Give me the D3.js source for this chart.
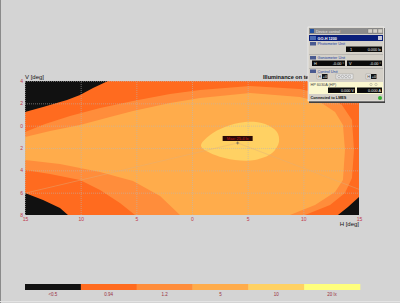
<!DOCTYPE html>
<html>
<head>
<meta charset="utf-8">
<script src="https://cdn.jsdelivr.net/npm/d3@7"></script>
<style>
  body { margin: 0; background: #d4d4d4; }
  svg { display: block; font-family: "Liberation Sans", Arial, sans-serif; }
</style>
</head>
<body>
<svg id="chart" width="400" height="303"></svg>
<script>
// axis ticks
const hTicks = [-15, -10, -5, 0, 5, 10, 15];
const vTicks = [4, 2, 0, -2, -4, -6, -8];

// illuminance classes (legend)
const legendLabels = ["<0.5", "0.94", "1.2", "5", "10", "20 lx"];
const legendColors = ["#111111", "#ff6b1f", "#ff8d3b", "#ffac4b", "#ffd163", "#ffff7c"];

// iso-lux regions, [H deg, V deg]; each one sits on top of the previous
const levelDark = [[-15, 1.22], [-13.38, 1.67], [-11.23, 2.3], [-10.06, 2.75], [-8.89, 3.37], [-7.55, 4],
  [15, 4], [15, -6.39], [14.01, -7.28], [13.11, -8], [-11.14, -8], [-11.86, -7.37], [-13.38, -6.66], [-15, -6.03]];
const levelOrange = [[-15, -0.57], [-13.2, 0.15], [-10.96, 0.87], [-8.26, 1.58], [-5.3, 2.21], [-1.98, 2.84],
  [0.72, 3.19], [5.21, 3.55], [9.7, 3.28], [11.95, 2.75], [13.47, 1.85], [14.37, 0.51], [14.55, -2.18],
  [14.37, -4.69], [13.74, -6.03], [12.4, -7.1], [10.15, -8], [-5.12, -8], [-6.47, -6.93], [-8.26, -5.76],
  [-10.06, -4.87], [-12.75, -4.33], [-15, -3.97]];
const levelLight = [[-15, -1.01], [-12.75, -0.48], [-10.06, 0.06], [-7.37, 0.78], [-5.3, 1.31], [-1.98, 2.03],
  [0.72, 2.48], [5.21, 2.93], [9.7, 2.57], [11.5, 2.12], [12.85, 1.22], [13.56, 0.06], [13.74, -2.18],
  [13.56, -4.87], [12.85, -5.94], [11.05, -7.1], [8.8, -8], [-1.08, -8], [-2.87, -6.3], [-5.3, -4.96],
  [-8.26, -4.15], [-11.86, -3.43], [-15, -3.07]];
const levelHot = [[0.81, -1.82], [1.62, -0.84], [2.96, -0.12], [4.76, 0.33], [6.56, 0.15], [7.63, -0.57],
  [7.81, -1.46], [7.19, -2.45], [5.66, -3.07], [3.86, -3.07], [2.07, -2.63]];

const maxPoint = { h: 4.1, v: -1.55, label: "Max: 25.4 lx" };
const guideLines = [[[-15, -6.05], [4.1, -1.55]], [[4.1, -1.55], [15, -5.7]]];

const svg = d3.select("#chart");

// frame of the window
svg.append("line").attr("x1", 0.5).attr("x2", 0.5).attr("y1", 0).attr("y2", 303)
  .attr("stroke", "#8a8a8a");
svg.append("line").attr("x1", 0).attr("x2", 400).attr("y1", 301.5).attr("y2", 301.5)
  .attr("stroke", "#e4e4e4");

const x = d3.scaleLinear().domain([-15, 15]).range([25, 359]);
const y = d3.scaleLinear().domain([-8, 4]).range([215, 81]);

svg.append("clipPath").attr("id", "plotclip")
  .append("rect").attr("x", 25).attr("y", 81).attr("width", 334).attr("height", 134);

const plot = svg.append("g").attr("clip-path", "url(#plotclip)");

plot.append("rect")
  .attr("x", x(-15)).attr("y", y(4))
  .attr("width", x(15) - x(-15)).attr("height", y(-8) - y(4))
  .attr("fill", legendColors[0]);

const poly = d3.line().x(d => x(d[0])).y(d => y(d[1])).curve(d3.curveLinearClosed);
const smooth = d3.line().x(d => x(d[0])).y(d => y(d[1])).curve(d3.curveCatmullRomClosed);

[levelDark, levelOrange, levelLight].forEach((lv, i) => {
  plot.append("path").attr("d", poly(lv)).attr("fill", legendColors[i + 1]);
});
plot.append("path").attr("d", smooth(levelHot)).attr("fill", legendColors[4]);

// grid
plot.append("g")
  .attr("transform", "translate(0," + y(-8) + ")")
  .call(d3.axisBottom(x).tickValues(hTicks).tickSize(-(y(-8) - y(4))).tickFormat(""))
  .call(g => g.select(".domain").remove())
  .selectAll("line").attr("stroke", "#b8b8b8").attr("stroke-dasharray", "1,1").attr("opacity", 0.55);
plot.append("g")
  .attr("transform", "translate(" + x(-15) + ",0)")
  .call(d3.axisLeft(y).tickValues(vTicks).tickSize(-(x(15) - x(-15))).tickFormat(""))
  .call(g => g.select(".domain").remove())
  .selectAll("line").attr("stroke", "#b8b8b8").attr("stroke-dasharray", "1,1").attr("opacity", 0.55);

guideLines.forEach(l => {
  plot.append("line")
    .attr("x1", x(l[0][0])).attr("y1", y(l[0][1]))
    .attr("x2", x(l[1][0])).attr("y2", y(l[1][1]))
    .attr("stroke", "#e0b080").attr("stroke-width", 0.7).attr("opacity", 0.6);
});

// maximum marker
const mx = x(maxPoint.h), my = y(maxPoint.v);
plot.append("rect").attr("x", mx - 15).attr("y", my - 7).attr("width", 30).attr("height", 5)
  .attr("fill", "#2a0a08");
plot.append("text").attr("x", mx).attr("y", my - 3.2).attr("text-anchor", "middle")
  .attr("font-size", 4).attr("fill", "#c81e1e").text(maxPoint.label);
plot.append("path").attr("d", `M${mx - 1.5},${my}H${mx + 1.5}M${mx},${my - 1.5}V${my + 1.5}`)
  .attr("stroke", "#555").attr("stroke-width", 0.6);

// axes
const tickColor = "#c0384a";
svg.append("g")
  .attr("transform", "translate(0," + (y(-8) + 1) + ")")
  .call(d3.axisBottom(x).tickValues(hTicks).tickSize(0).tickPadding(1).tickFormat(d => Math.abs(d)))
  .call(g => g.select(".domain").remove())
  .selectAll("text").attr("fill", tickColor).attr("font-size", 5);
svg.append("g")
  .attr("transform", "translate(" + (x(-15) - 1) + ",0)")
  .call(d3.axisLeft(y).tickValues(vTicks).tickSize(0).tickPadding(1).tickFormat(d => Math.abs(d)))
  .call(g => g.select(".domain").remove())
  .selectAll("text").attr("fill", tickColor).attr("font-size", 5);

svg.append("text").attr("x", 25).attr("y", 79).attr("font-size", 6).attr("fill", "#111").text("V [deg]");
svg.append("text").attr("x", 359).attr("y", 225.5).attr("text-anchor", "end")
  .attr("font-size", 6).attr("fill", "#111").text("H [deg]");
svg.append("text").attr("x", 263).attr("y", 79).attr("font-size", 5.6).attr("font-weight", "bold")
  .attr("fill", "#111").text("Illuminance on te");

// legend
const lx = d3.scaleBand().domain(legendLabels).range([25, 360]);
const legend = svg.append("g");
legend.selectAll("rect").data(legendLabels).join("rect")
  .attr("x", d => lx(d)).attr("y", 284).attr("width", lx.bandwidth() + 0.3).attr("height", 6)
  .attr("fill", (d, i) => legendColors[i]);
legend.selectAll("text").data(legendLabels).join("text")
  .attr("x", d => lx(d) + lx.bandwidth() / 2).attr("y", 296)
  .attr("text-anchor", "middle").attr("font-size", 4.5).attr("fill", "#9a3040")
  .text(d => d);

// device control window (screen overlay)
const win = svg.append("g").attr("transform", "translate(308,27)").attr("font-size", 3.8);
win.append("rect").attr("x", 1).attr("y", 1).attr("width", 76).attr("height", 75).attr("fill", "#404040");
win.append("rect").attr("width", 76).attr("height", 74).attr("fill", "#d4d0c8")
  .attr("stroke", "#f4f4f4").attr("stroke-width", 0.6);
win.append("rect").attr("x", 1).attr("y", 1).attr("width", 74).attr("height", 6).attr("fill", "#8c8c8c");
win.append("rect").attr("x", 2).attr("y", 2).attr("width", 4).attr("height", 4).attr("fill", "#2050a0");
win.append("text").attr("x", 8).attr("y", 5.6).attr("fill", "#e4e4e4").text("Device control");
[60, 65, 70].forEach(bx => {
  win.append("rect").attr("x", bx).attr("y", 2).attr("width", 4.5).attr("height", 4)
    .attr("fill", "#d4d0c8").attr("stroke", "#666").attr("stroke-width", 0.3);
});
win.append("rect").attr("x", 1).attr("y", 8).attr("width", 74).attr("height", 6).attr("fill", "#0a1f7a");
win.append("rect").attr("x", 2).attr("y", 9).attr("width", 6).attr("height", 4).attr("fill", "#4a6ab0");
win.append("text").attr("x", 9.5).attr("y", 12.6).attr("fill", "#fff").attr("font-weight", "bold").text("GO-H 1200");
win.append("rect").attr("x", 70).attr("y", 9).attr("width", 4).attr("height", 4).attr("fill", "#c8c8d8");

const section = (yy, title) => {
  win.append("rect").attr("x", 2).attr("y", yy - 3).attr("width", 6).attr("height", 3.5).attr("fill", "#4a5a90");
  win.append("text").attr("x", 9.5).attr("y", yy).attr("fill", "#2040a0").text(title);
};
const display = (bx, by, w, txt) => {
  win.append("rect").attr("x", bx).attr("y", by).attr("width", w).attr("height", 5.5).attr("fill", "#0a0a0a");
  win.append("text").attr("x", bx + w - 1).attr("y", by + 4.2).attr("text-anchor", "end")
    .attr("fill", "#f0f0f0").text(txt);
};
section(18, "Photometer Unit");
display(38, 19.5, 36, "0.000  lx");
win.append("text").attr("x", 42).attr("y", 23.7).attr("fill", "#f0f0f0").text("1");
win.append("line").attr("x1", 1).attr("x2", 75).attr("y1", 27.5).attr("y2", 27.5).attr("stroke", "#909090").attr("stroke-width", 0.4);
section(32, "Goniometer Unit");
display(4, 33.5, 33, "-0.00 °");
display(39, 33.5, 35, "-0.00 °");
win.append("text").attr("x", 6).attr("y", 37.7).attr("fill", "#f0f0f0").text("H");
win.append("text").attr("x", 41).attr("y", 37.7).attr("fill", "#f0f0f0").text("V");
win.append("line").attr("x1", 1).attr("x2", 75).attr("y1", 41.5).attr("y2", 41.5).attr("stroke", "#909090").attr("stroke-width", 0.4);
section(45.5, "Control Unit");
[[9, "H"], [58, "H"]].forEach(c => {
  win.append("rect").attr("x", c[0]).attr("y", 47).attr("width", 5).attr("height", 5)
    .attr("fill", "#e8e8e8").attr("stroke", "#777").attr("stroke-width", 0.3);
  win.append("text").attr("x", c[0] + 1.2).attr("y", 50.8).attr("fill", "#333").text(c[1]);
  win.append("rect").attr("x", c[0] + 5).attr("y", 47).attr("width", 5.5).attr("height", 5).attr("fill", "#111");
  win.append("text").attr("x", c[0] + 5.8).attr("y", 50.8).attr("fill", "#fff").text("+0");
});
win.append("rect").attr("x", 28).attr("y", 47).attr("width", 17).attr("height", 5)
  .attr("fill", "#e8e8e8").attr("stroke", "#777").attr("stroke-width", 0.3);
[31, 34.5, 38, 41.5].forEach(cx => {
  win.append("circle").attr("cx", cx).attr("cy", 49.5).attr("r", 1.3)
    .attr("fill", "none").attr("stroke", "#666").attr("stroke-width", 0.35);
});
win.append("rect").attr("x", 1).attr("y", 55).attr("width", 74).attr("height", 12).attr("fill", "#fbf8d0");
win.append("text").attr("x", 2.5).attr("y", 58.8).attr("fill", "#444").text("HP 6030A (HP)");
[63, 68].forEach(cx => {
  win.append("circle").attr("cx", cx).attr("cy", 57.5).attr("r", 1.2)
    .attr("fill", "none").attr("stroke", "#777").attr("stroke-width", 0.35);
});
display(20, 60.5, 27, "0.000 V");
display(49, 60.5, 25, "0.000 A");
win.append("text").attr("x", 2.5).attr("y", 72.3).attr("fill", "#111").attr("font-weight", "bold").text("Connected to LMES");
win.append("circle").attr("cx", 72).attr("cy", 71).attr("r", 2).attr("fill", "#30b030");
</script>
</body>
</html>
